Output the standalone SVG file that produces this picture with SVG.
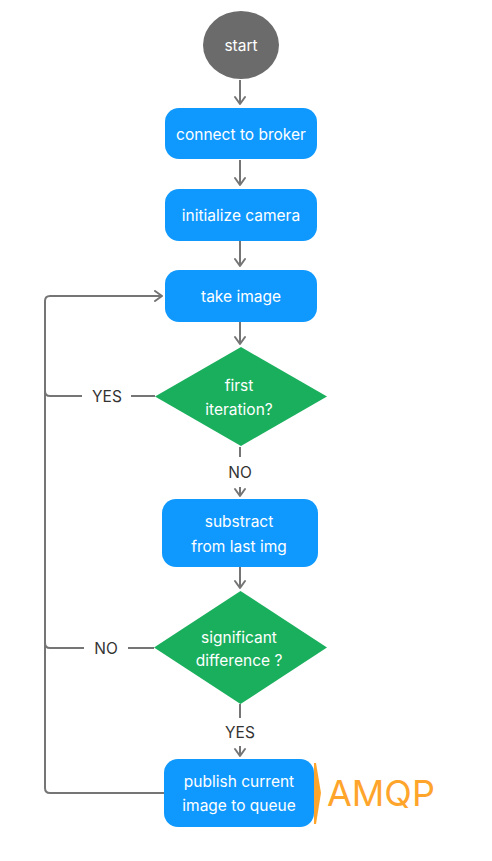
<svg xmlns="http://www.w3.org/2000/svg" width="492" height="861" viewBox="0 0 492 861">
<defs>
<marker id="arr" markerWidth="12" markerHeight="12" refX="10" refY="6" orient="auto" markerUnits="userSpaceOnUse">
<path d="M3,1 L10,6 L3,11" fill="none" stroke="#757575" stroke-width="2" stroke-linecap="round" stroke-linejoin="round"/>
</marker>
<style>
.box{fill:#0f99ff}
.dia{fill:#1aaf5d}
.t{font-family:Inter,"Noto Sans",sans-serif;font-size:15.5px;fill:#ffffff;text-anchor:middle}
.lbl{font-family:Inter,"Noto Sans",sans-serif;font-size:15.5px;fill:#333333;text-anchor:middle}
.c{fill:none;stroke:#757575;stroke-width:2}
</style>
</defs>
<rect width="492" height="861" fill="#ffffff"/>
<g id="connectors">
<path class="c" d="M240,80 V104" marker-end="url(#arr)"/>
<path class="c" d="M240,160 V185" marker-end="url(#arr)"/>
<path class="c" d="M240,241 V266" marker-end="url(#arr)"/>
<path class="c" d="M240,322 V344" marker-end="url(#arr)"/>
<path class="c" d="M240,447 V457"/>
<path class="c" d="M240,487 V496" marker-end="url(#arr)"/>
<path class="c" d="M240,567 V588" marker-end="url(#arr)"/>
<path class="c" d="M240,704 V718"/>
<path class="c" d="M240,746 V756" marker-end="url(#arr)"/>
<path class="c" d="M155,396 H131"/>
<path class="c" d="M82,396 H50 Q45,396 45,391"/>
<path class="c" d="M154,648 H128"/>
<path class="c" d="M84,648 H50 Q45,648 45,643"/>
<path class="c" d="M164,793 H50 Q45,793 45,788 V301 Q45,296 50,296 H162" marker-end="url(#arr)"/>
</g>
<g id="labels">
<text class="lbl" x="107" y="402">YES</text>
<text class="lbl" x="240" y="478">NO</text>
<text class="lbl" x="106" y="654">NO</text>
<text class="lbl" x="240" y="738">YES</text>
</g>
<g id="start">
<ellipse cx="241" cy="45" rx="38" ry="34" fill="#6b6b6b"/>
<text class="t" x="241" y="50.5">start</text>
</g>
<g id="connect">
<rect class="box" x="165" y="108" width="152" height="51" rx="14"/>
<text class="t" x="241" y="139.5">connect to broker</text>
</g>
<g id="init">
<rect class="box" x="165" y="189" width="152" height="52" rx="14"/>
<text class="t" x="241" y="220.5">initialize camera</text>
</g>
<g id="take">
<rect class="box" x="165" y="270" width="152" height="52" rx="14"/>
<text class="t" x="241" y="301.5">take image</text>
</g>
<g id="first">
<polygon class="dia" points="241,347 327,396.5 241,446 155,396.5"/>
<text class="t" x="239" y="390.5">first</text>
<text class="t" x="239" y="414.5">iteration?</text>
</g>
<g id="subtract">
<rect class="box" x="162" y="499" width="156" height="68" rx="14"/>
<text class="t" x="239" y="526.5">substract</text>
<text class="t" x="239" y="551.5">from last img</text>
</g>
<g id="diff">
<polygon class="dia" points="240.5,591 327,647.5 240.5,704 154,647.5"/>
<text class="t" x="239" y="642.5">significant</text>
<text class="t" x="239" y="665.5">difference ?</text>
</g>
<g id="publish">
<rect class="box" x="164" y="759" width="150" height="68" rx="14"/>
<text class="t" x="239" y="786.5">publish current</text>
<text class="t" x="239" y="810.5">image to queue</text>
</g>
<g id="amqp">
<polygon points="314,763 316,763 321,793 316,824 314,824" fill="#ffa52b"/>
<text x="327" y="806" font-family="Inter,'Noto Sans',sans-serif" font-size="36" fill="#ffa52b">AMQP</text>
</g>
</svg>
